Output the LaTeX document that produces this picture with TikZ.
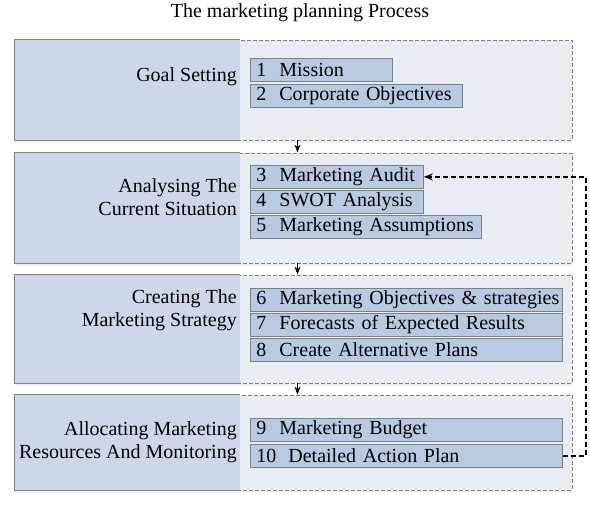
\documentclass[tikz,border=0pt]{standalone}
\usepackage{fontspec}
\setmainfont{Liberation Serif}
\usetikzlibrary{positioning,arrows.meta,shadows}
\definecolor{fondG}{HTML}{CDD7E7}
\definecolor{fondD}{HTML}{E8ECF3}
\definecolor{bleuI}{HTML}{B9C9E2}
\definecolor{trait}{HTML}{808080}
\tikzset{
  etape/.style={minimum width=557pt,inner sep=0pt,fill=fondD,draw=trait,
    dash pattern=on 4pt off 2pt,line width=0.8pt,
    drop shadow={opacity=0.12,shadow xshift=0pt,shadow yshift=-3pt}},
  libelle/.style={anchor=east,align=right,inner sep=0pt},
  item/.style={draw=trait,fill=bleuI,line width=0.8pt,inner xsep=6pt,inner ysep=1pt,
    minimum height=23pt,align=left,anchor=north west},
  suite/.style={-{Stealth[length=8pt,width=6pt]},line width=1pt},
  retour/.style={-{Stealth[length=9pt,width=7pt]},line width=1.6pt,dash pattern=on 5pt off 3pt}
}
\newcommand{\gauche}[1]{% partie gauche pleine
  \fill[fondG] (#1.north west) rectangle ([xshift=225pt]#1.south west);
  \draw[trait,line width=0.8pt] ([xshift=225pt]#1.north west) -| (#1.south west) -- ([xshift=225pt]#1.south west);}
\newcommand{\ligne}[2]{\mbox{#1\hspace{13pt}#2}}
\begin{document}
\begin{tikzpicture}[x=1pt,y=-1pt,font=\fontsize{20}{23}\selectfont]
  \useasboundingbox (0,0) rectangle (590,508);
  \node (titre) at (300,13) {The marketing planning Process};
  % les quatre etapes
  \node[etape,minimum height=100pt] (e1) at (293.5,90) {};
  \node[etape,minimum height=110pt] (e2) at (293.5,208) {};
  \node[etape,minimum height=108pt] (e3) at (293.5,329) {};
  \node[etape,minimum height=95pt] (e4) at (293.5,442.5) {};
  \gauche{e1} \gauche{e2} \gauche{e3} \gauche{e4}
  \node[libelle] (l1) at (237,77) {Goal Setting};
  \node[libelle] (l2) at (237,197) {Analysing The\\Current Situation};
  \node[libelle] (l3) at (237,310) {Creating The\\Marketing Strategy};
  \node[libelle] (l4) at (237,442) {Allocating Marketing\\Resources And Monitoring};
  % les items
  \node[item,text width=130pt] (m1) at (250,58) {\ligne{1}{Mission}};
  \node[item,text width=200pt,below=2pt of m1.south west,anchor=north west] (m2) {\ligne{2}{Corporate Objectives}};
  \node[item,text width=161pt] (m3) at (250,165) {\ligne{3}{Marketing Audit}};
  \node[item,text width=161pt,below=1pt of m3.south west,anchor=north west] (m4) {\ligne{4}{SWOT Analysis}};
  \node[item,text width=219pt,below=1pt of m4.south west,anchor=north west] (m5) {\ligne{5}{Marketing Assumptions}};
  \node[item,text width=300pt] (m6) at (250,288) {\ligne{6}{Marketing Objectives \& strategies}};
  \node[item,text width=300pt,below=1pt of m6.south west,anchor=north west] (m7) {\ligne{7}{Forecasts of Expected Results}};
  \node[item,text width=300pt,below=1pt of m7.south west,anchor=north west] (m8) {\ligne{8}{Create Alternative Plans}};
  \node[item,text width=300pt] (m9) at (250,418) {\ligne{9}{Marketing Budget}};
  \node[item,text width=300pt,below=2pt of m9.south west,anchor=north west] (m10) {\mbox{10\hspace{12pt}Detailed Action Plan}};
  % fleches
  \draw[suite] ([xshift=4pt]e1.south) -- ([xshift=4pt]e2.north);
  \draw[suite] ([xshift=4pt]e2.south) -- ([xshift=4pt]e3.north);
  \draw[suite] ([xshift=4pt]e3.south) -- ([xshift=4pt]e4.north);
  \draw[retour] (m10.east) -- ++(23,0) |- (m3.east);
\end{tikzpicture}
\end{document}
